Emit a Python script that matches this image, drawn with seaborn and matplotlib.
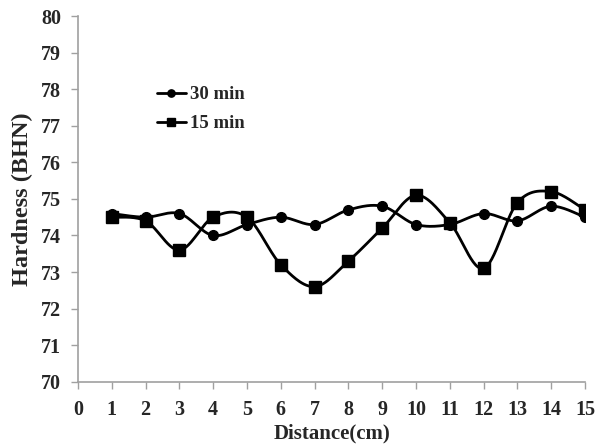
import numpy as np
import pandas as pd
import matplotlib
matplotlib.use("Agg")
import matplotlib.pyplot as plt
import seaborn as sns
from matplotlib.lines import Line2D

distance = [1, 2, 3, 4, 5, 6, 7, 8, 9, 10, 11, 12, 13, 14, 15]
hard_30 = [74.6, 74.5, 74.6, 74.0, 74.3, 74.5, 74.3, 74.7, 74.8, 74.3, 74.3, 74.6, 74.4, 74.8, 74.5]
hard_15 = [74.5, 74.4, 73.6, 74.5, 74.5, 73.2, 72.6, 73.3, 74.2, 75.1, 74.35, 73.1, 74.9, 75.2, 74.7]
series_labels = ["30 min", "15 min"]
x_ticks = list(range(0, 16))
y_ticks = list(range(70, 81))


def smooth(xs, ys, n=30):
    # Excel-style smoothing (Catmull-Rom as cubic Bezier)
    P = np.column_stack([xs, ys]).astype(float)
    P_ext = np.vstack([P[0], P, P[-1]])
    out = []
    t = np.linspace(0, 1, n)[:, None]
    for i in range(1, len(P_ext) - 2):
        p0, p1, p2, p3 = P_ext[i - 1], P_ext[i], P_ext[i + 1], P_ext[i + 2]
        c1 = p1 + (p2 - p0) / 6
        c2 = p2 - (p3 - p1) / 6
        seg = ((1 - t) ** 3) * p1 + 3 * ((1 - t) ** 2) * t * c1 + 3 * (1 - t) * t ** 2 * c2 + t ** 3 * p2
        out.append(seg if i == 1 else seg[1:])
    arr = np.vstack(out)
    return arr[:, 0], arr[:, 1]


sns.set_theme(style="white")
plt.rcParams['font.family'] = ['Liberation Serif', 'DejaVu Serif']

fig = plt.figure(figsize=(6.01, 4.47), dpi=100)
ax = fig.add_axes([0.1298, 0.146, 0.8436, 0.818])

markers = ["o", "s"]
msizes = [7, 8]
for ys, lab, mk, ms in zip([hard_30, hard_15], series_labels, markers, msizes):
    sx, sy = smooth(distance, ys)
    sns.lineplot(x=sx, y=sy, ax=ax, color="black", linewidth=2.0, sort=False,
                 estimator=None)
    ax.plot(distance, ys, linestyle="none", marker=mk, markersize=ms, color="black")

handles = [Line2D([], [], color="black", linewidth=2.0, marker=m, markersize=s * 0.75)
           for m, s in zip(markers, msizes)]
leg = ax.legend(handles, series_labels, loc="upper left", bbox_to_anchor=(0.122, 0.855),
                frameon=False, handlelength=1.55, handletextpad=0.2, labelspacing=0.65,
                prop={"weight": "bold", "size": 13.5})

ax.set_xlim(0, 15)
ax.set_ylim(70, 80)
ax.set_xticks(x_ticks)
ax.set_yticks(y_ticks)
ax.set_xticklabels([str(v) for v in x_ticks], fontsize=14.5, fontweight="bold")
ax.set_yticklabels([str(v) for v in y_ticks], fontsize=14.5, fontweight="bold")
ax.tick_params(axis="both", which="major", direction="out", length=5, width=1,
               color="#a0a0a0", bottom=True, left=True)
ax.tick_params(axis="x", pad=8)
ax.tick_params(axis="y", pad=7)

for s in ["top", "right"]:
    ax.spines[s].set_visible(False)
for s in ["left", "bottom"]:
    ax.spines[s].set_color("#a0a0a0")
    ax.spines[s].set_linewidth(1.2)

ax.set_xlabel("Distance(cm)", fontsize=15, fontweight="bold", labelpad=3)
ax.set_ylabel("Hardness (BHN)", fontsize=17.5, fontweight="bold", labelpad=6)

fig.savefig("out.png", dpi=100)
